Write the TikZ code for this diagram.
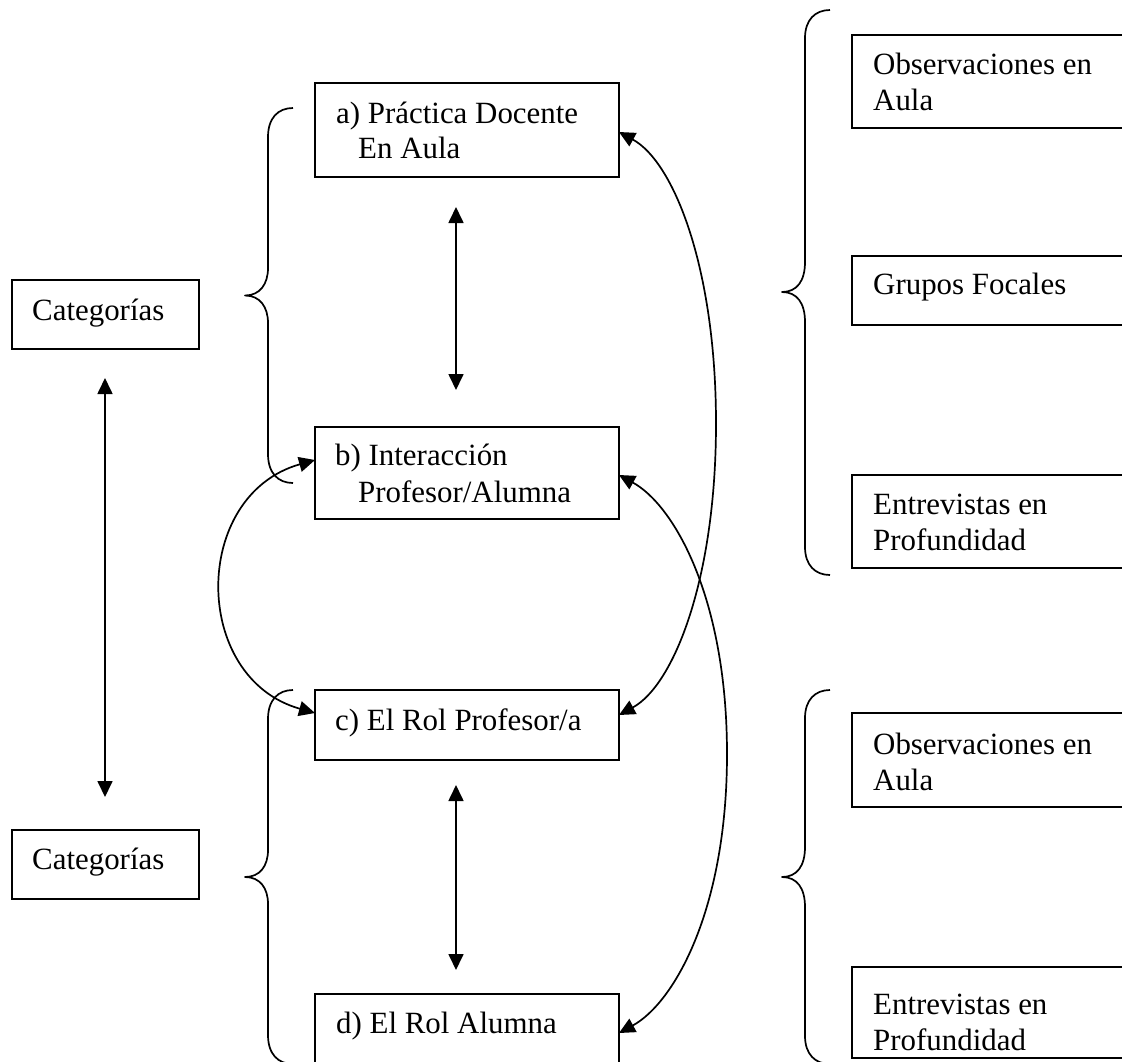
\documentclass[tikz,border=0pt]{standalone}
\usepackage{fontspec}
\setmainfont{Liberation Serif}
\usetikzlibrary{arrows.meta,calc}
\begin{document}
\begin{tikzpicture}[x=1pt,y=-1pt,
  box/.style={draw, line width=1.8pt, rectangle, inner sep=0pt, outer sep=0pt, anchor=north west},
  txt/.style={inner sep=0pt, anchor=base west, font=\fontsize{30.9}{35.5}\selectfont},
  conn/.style={line width=1.7pt, {Triangle[length=16pt,width=15pt]}-{Triangle[length=16pt,width=15pt]}},
  bracestyle/.style={line width=1.7pt, line join=round}]
\useasboundingbox (0,0) rectangle (1122,1061);
\clip (0,0) rectangle (1122,1061);

% left column boxes
\node[box, minimum width=187pt, minimum height=69pt] (cat1) at (12,280) {};
\node[box, minimum width=187pt, minimum height=69pt] (cat2) at (12,830) {};
\node[txt] (cat1t) at (32,320) {Categorías};
\node[txt] (cat2t) at (32,869) {Categorías};

% middle boxes
\node[box, minimum width=304pt, minimum height=94pt] (a) at (315,83) {};
\node[box, minimum width=304pt, minimum height=92pt] (b) at (315,427) {};
\node[box, minimum width=304pt, minimum height=70pt] (c) at (315,690) {};
\node[box, minimum width=304pt, minimum height=90pt] (d) at (315,994) {};
\node[txt] (at1) at (336,123) {a) Práctica Docente};
\node[txt] (at2) at (358,158) {En Aula};
\node[txt] (bt1) at (335,465) {b) Interacción};
\node[txt] (bt2) at (358,502) {Profesor/Alumna};
\node[txt] (ct1) at (335,730) {c) El Rol Profesor/a};
\node[txt] (dt1) at (336,1033) {d) El Rol Alumna};

% right boxes
\node[box, minimum width=290pt, minimum height=93pt] (r1) at (852,35) {};
\node[box, minimum width=290pt, minimum height=69pt] (r2) at (852,256) {};
\node[box, minimum width=290pt, minimum height=93pt] (r3) at (852,475) {};
\node[box, minimum width=290pt, minimum height=94pt] (r4) at (852,713) {};
\node[box, minimum width=290pt, minimum height=91pt] (r5) at (852,967) {};
\node[txt] (r1t1) at (873,74) {Observaciones en};
\node[txt] (r1t2) at (873,110) {Aula};
\node[txt] (r2t1) at (873,294) {Grupos Focales};
\node[txt] (r3t1) at (873,514) {Entrevistas en};
\node[txt] (r3t2) at (873,550) {Profundidad};
\node[txt] (r4t1) at (873,754) {Observaciones en};
\node[txt] (r4t2) at (873,790) {Aula};
\node[txt] (r5t1) at (873,1014) {Entrevistas en};
\node[txt] (r5t2) at (873,1050) {Profundidad};

% braces
\draw[bracestyle] (293,108) .. controls (278,108) and (268,118) .. (268,137) -- (268,268)
  .. controls (268,284) and (260,295.5) .. (245,295.5) .. controls (260,295.5) and (268,307) .. (268,323)
  -- (268,454) .. controls (268,473) and (278,483) .. (293,483);
\draw[bracestyle] (293,690) .. controls (278,690) and (268,700) .. (268,719) -- (268,850)
  .. controls (268,866) and (260,877) .. (245,877) .. controls (260,877) and (268,888) .. (268,904)
  -- (268,1035) .. controls (268,1054) and (278,1064) .. (293,1064);
\draw[bracestyle] (830,10) .. controls (815,10) and (805,20) .. (805,38) -- (805,262)
  .. controls (805,281) and (797,292) .. (782,292) .. controls (797,292) and (805,303) .. (805,322)
  -- (805,547) .. controls (805,565) and (815,575) .. (830,575);
\draw[bracestyle] (830,690) .. controls (815,690) and (805,700) .. (805,718) -- (805,847)
  .. controls (805,866) and (797,877) .. (782,877) .. controls (797,877) and (805,888) .. (805,907)
  -- (805,1036) .. controls (805,1054) and (815,1064) .. (830,1064);

% straight double arrows
\coordinate (v1t) at (456,207);
\coordinate (v1b) at (456,390);
\coordinate (v2t) at (456,785);
\coordinate (v2b) at (456,970);
\coordinate (v3t) at (105,378);
\coordinate (v3b) at (105,797);
\draw[conn] (v1t) -- (v1b);
\draw[conn] (v2t) -- (v2b);
\draw[conn] (v3t) -- (v3b);

% curved connectors
\coordinate (ae) at ($(a.north east)+(0,49)$);
\coordinate (be) at ($(b.north east)+(0,48)$);
\coordinate (bw) at ($(b.north west)+(0,33)$);
\coordinate (ce) at ($(c.north east)+(0,25)$);
\coordinate (cw) at ($(c.north west)+(0,23)$);
\coordinate (de) at ($(d.north east)+(0,39)$);
\coordinate (m1) at (716,423.5);
\coordinate (m2) at (727,754);
\draw[conn] (ae) .. controls +(55,30) and +(0,-155) .. (m1) .. controls +(0,155) and +(55,-30) .. (ce);
\draw[conn] (be) .. controls +(55,30) and +(0,-156) .. (m2) .. controls +(0,156) and +(55,-30) .. (de);
\draw[conn] (bw) .. controls +(-124,35) and +(-124,-35) .. (cw);
\end{tikzpicture}
\end{document}
